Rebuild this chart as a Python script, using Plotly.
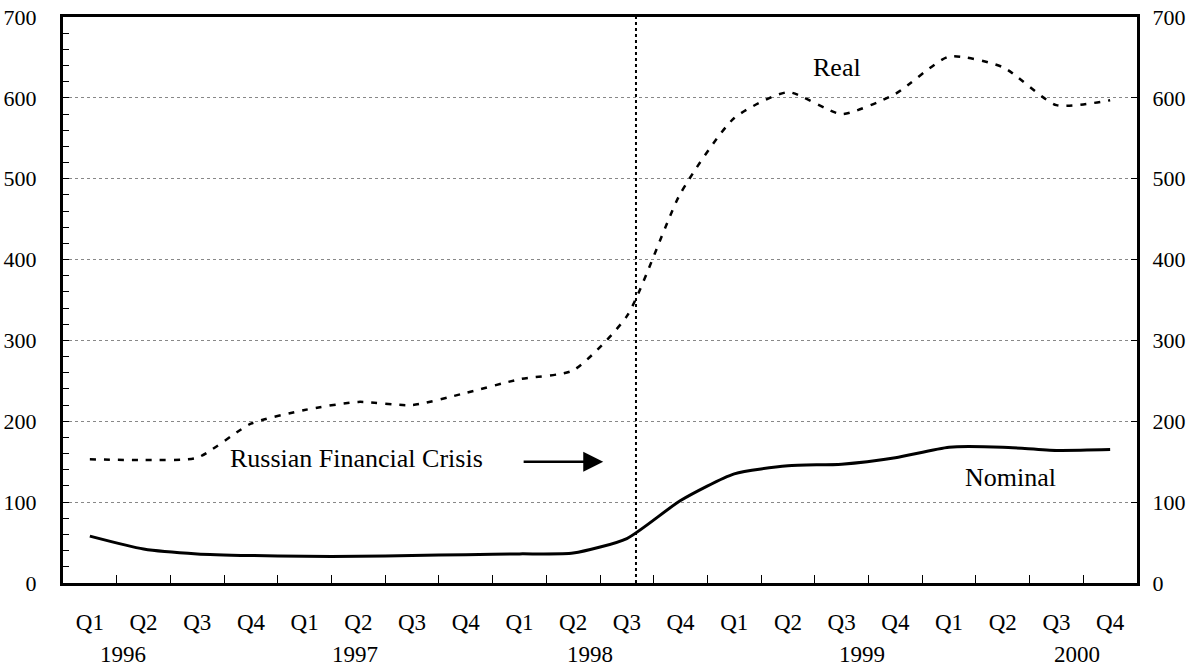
import plotly.graph_objects as go

quarters = ["Q1", "Q2", "Q3", "Q4"] * 5
years = [1996, 1997, 1998, 1999, 2000]
categories = [f"{q} {y}" for y in years for q in ["Q1", "Q2", "Q3", "Q4"]]

real = [153, 152, 155, 197, 214, 224, 220, 235, 252, 263,
        330, 482, 575, 607, 580, 605, 651, 638, 591, 597]
nominal = [58, 42, 36, 34, 33, 33, 34, 35, 36, 37,
           55, 102, 135, 145, 147, 155, 168, 168, 164, 165]

year_label_pos = [0.62, 4.94, 9.31, 14.38, 18.38]

FONT = "Liberation Serif"

fig = go.Figure()
fig.add_trace(go.Scatter(x=categories, y=real, mode="lines",
                         line=dict(color="black", width=2.5, dash="6px,8px", shape="spline", smoothing=0.6),
                         showlegend=False))
fig.add_trace(go.Scatter(x=categories, y=nominal, mode="lines",
                         line=dict(color="black", width=3, shape="spline", smoothing=0.6),
                         showlegend=False))
fig.add_trace(go.Scatter(x=categories, y=nominal, yaxis="y2", mode="lines",
                         line=dict(color="rgba(0,0,0,0)"), showlegend=False, hoverinfo="skip"))

fig.update_layout(
    width=1199, height=671,
    margin=dict(l=63, r=62, t=17, b=88),
    plot_bgcolor="white", paper_bgcolor="white",
    font=dict(family=FONT, size=23, color="black"),
    xaxis=dict(type="category", tickvals=categories, ticktext=quarters,
               tickson="boundaries", ticks="inside", ticklen=8, tickwidth=1, tickcolor="black",
               showline=True, linecolor="black", linewidth=3, mirror=True,
               showgrid=False, ticklabelstandoff=16, range=[-0.5, 19.5], automargin=False,
               tickfont=dict(family=FONT, size=23)),
    yaxis=dict(range=[0, 700], dtick=100, ticks="inside", ticklen=6, tickcolor="black",
               showline=True, linecolor="black", linewidth=3,
               showgrid=True, gridcolor="#888888", griddash="dot", gridwidth=1,
               minor=dict(dtick=20, ticks="inside", ticklen=6, tickcolor="black", showgrid=False),
               zeroline=False, ticklabelstandoff=19, automargin=False,
               tickfont=dict(family=FONT, size=22)),
    yaxis2=dict(range=[0, 700], dtick=100, overlaying="y", side="right",
                ticks="inside", ticklen=6, tickcolor="black",
                showline=True, linecolor="black", linewidth=3,
                showgrid=False, zeroline=False, ticklabelstandoff=8, automargin=False,
                tickfont=dict(family=FONT, size=22)),
)

fig.add_shape(type="line", x0=10.17, x1=10.17, y0=0, y1=700, xref="x", yref="y",
              line=dict(color="black", width=2, dash="dot"))

for yr, pos in zip(years, year_label_pos):
    fig.add_annotation(x=pos, y=-0.1272, xref="x", yref="paper", text=str(yr),
                       showarrow=False, font=dict(family=FONT, size=23), yanchor="middle")

fig.add_annotation(x=4.97, y=154, xref="x", yref="y", text="Russian Financial Crisis",
                   showarrow=False, font=dict(family=FONT, size=26))
fig.add_annotation(x=9.56, y=150, ax=8.05, ay=150, xref="x", yref="y", axref="x", ayref="y",
                   text="", showarrow=True, arrowhead=2, arrowsize=1.6, arrowwidth=2.5,
                   arrowcolor="black")
fig.add_annotation(x=13.92, y=637, xref="x", yref="y", text="Real",
                   showarrow=False, font=dict(family=FONT, size=26))
fig.add_annotation(x=17.15, y=130, xref="x", yref="y", text="Nominal",
                   showarrow=False, font=dict(family=FONT, size=26))

fig.write_html("out.html", config={"displayModeBar": False},
               post_script="document.body.style.margin='0';document.body.style.overflow='hidden';")
